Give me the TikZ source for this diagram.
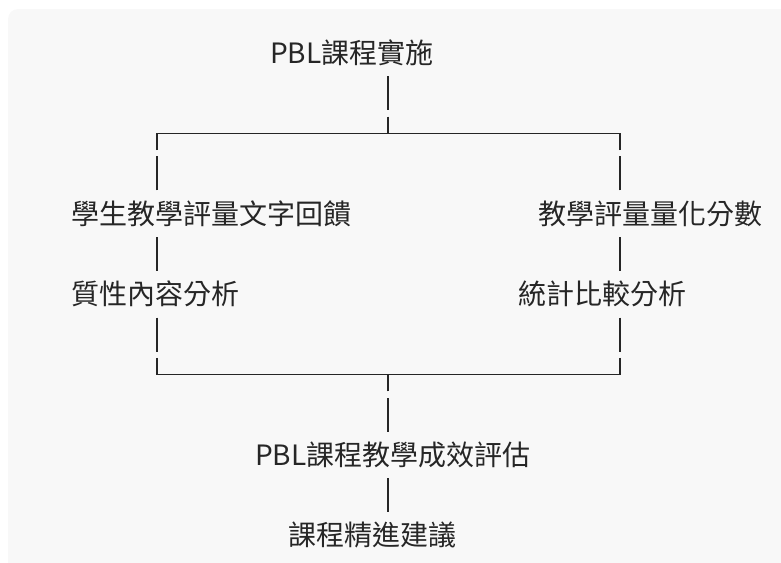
\documentclass[tikz,border=0pt]{standalone}
\usepackage{fontspec}
\setmainfont{Noto Sans CJK TC}
\usepackage{tikz}
\usetikzlibrary{calc, positioning}
\definecolor{bggray}{HTML}{F8F8F8}
\definecolor{inkgray}{HTML}{262626}
\tikzstyle{txt}=[inner sep=0pt, minimum height=40.2pt, anchor=west, text=inkgray, font=\fontsize{28}{30}\selectfont]
\tikzstyle{bar}=[draw=inkgray, line width=1.6pt, dash pattern=on 34pt off 6.2pt, dash phase=37.1pt]
\tikzstyle{hbar}=[draw=inkgray, line width=1.6pt]

\begin{document}
\begin{tikzpicture}[x=1pt,y=-1pt]
\useasboundingbox (0,0) rectangle (781,562);
\clip (0,0) rectangle (781,562);
\fill[bggray, rounded corners=10pt] (8,9) rectangle (800,590);
%text rows
\node[txt] (impl) at (270,53) {PBL課程實施};
\node[txt] (fb) at (71.5,213.8) {學生教學評量文字回饋};
\node[txt] (score) at (538.5,213.8) {教學評量量化分數};
\node[txt] (qual) at (71.5,294.2) {質性內容分析};
\node[txt] (stat) at (518.5,294.2) {統計比較分析};
\node[txt] (eval) at (255,455) {PBL課程教學成效評估};
\node[txt] (sugg) at (288.5,535.4) {課程精進建議};
%branch points
\coordinate (tl) at (157,133.4); \coordinate (tm) at (388,133.4); \coordinate (tr) at (620,133.4);
\coordinate (bl) at (157,374.6); \coordinate (bm) at (388,374.6); \coordinate (br) at (620,374.6);
%split
\draw[bar] (tm |- impl.south) -- (tm);
\draw[hbar] (tl) -- (tr);
\draw[bar] (tl |- fb.north) -- (tl);
\draw[bar] (tr |- score.north) -- (tr);
\draw[bar] (fb.south -| tl) -- (qual.north -| tl);
\draw[bar] (score.south -| tr) -- (stat.north -| tr);
%merge
\draw[bar] (qual.south -| bl) -- (bl);
\draw[bar] (stat.south -| br) -- (br);
\draw[hbar] (bl) -- (br);
\draw[bar] (eval.north -| bm) -- (bm);
\draw[bar] (eval.south -| bm) -- (sugg.north -| bm);
\end{tikzpicture}
\end{document}
